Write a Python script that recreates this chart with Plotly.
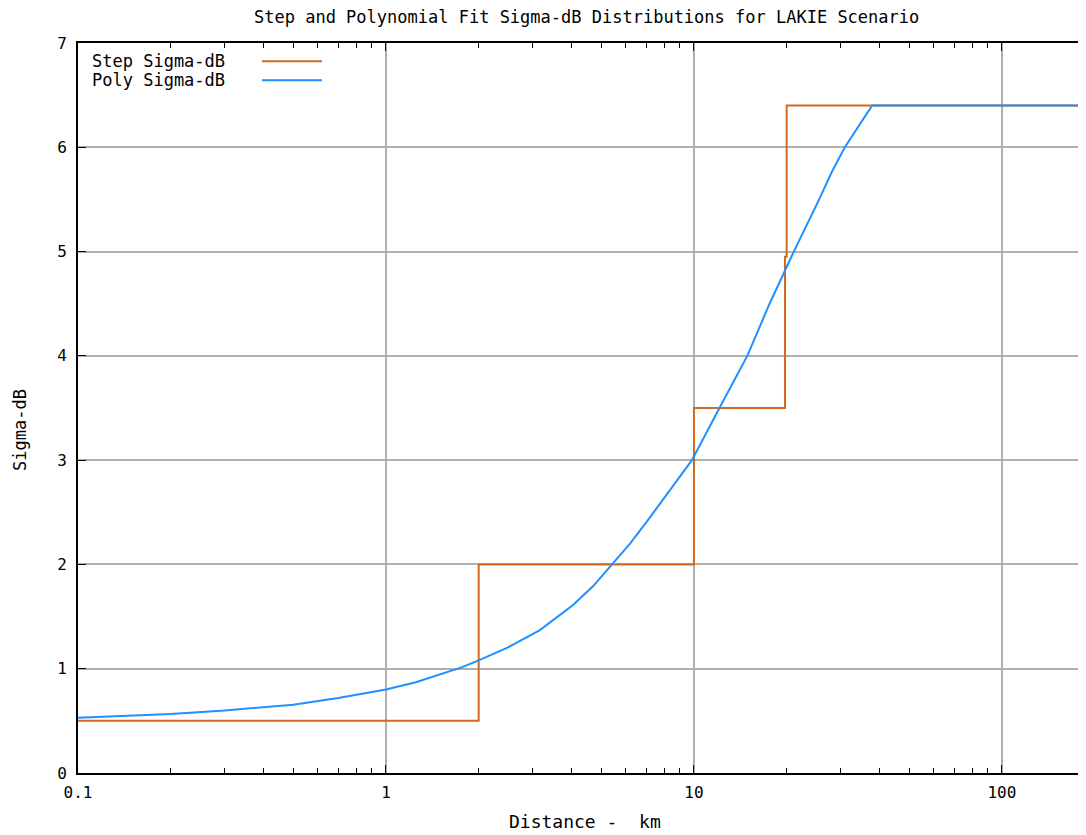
import plotly.graph_objects as go

# Step sigma-dB distribution
step_x = [0.1, 2, 2, 10, 10, 19.75, 19.75, 20, 20, 190]
step_y = [0.5, 0.5, 2.0, 2.0, 3.5, 3.5, 4.95, 4.95, 6.4, 6.4]

# Polynomial fit sigma-dB distribution
poly_x = [0.1, 0.15, 0.2, 0.3, 0.4, 0.5, 0.7, 1.0, 1.25, 1.5, 1.75, 2.0, 2.47,
          3.16, 4.05, 4.7, 5.42, 6.2, 7.03, 8.3, 9.85, 12.1, 14.9, 17.6, 21.1,
          25.5, 28.0, 30.9, 34.5, 37.9, 190]
poly_y = [0.53, 0.55, 0.565, 0.60, 0.63, 0.655, 0.72, 0.80, 0.87, 0.95, 1.01,
          1.08, 1.20, 1.37, 1.61, 1.79, 2.0, 2.2, 2.41, 2.7, 3.0, 3.5, 4.0,
          4.5, 5.0, 5.5, 5.76, 6.0, 6.22, 6.4, 6.4]

x_ticks = [0.1, 1, 10, 100]
x_tick_labels = ["0.1", "1", "10", "100"]
y_ticks = [0, 1, 2, 3, 4, 5, 6, 7]

FONT = "DejaVu Sans Mono"
ORANGE = "#d2691e"
BLUE = "#1e90ff"

fig = go.Figure()
fig.add_trace(go.Scatter(x=step_x, y=step_y, mode="lines", name="Step Sigma-dB",
                         line=dict(color=ORANGE, width=2), showlegend=False))
fig.add_trace(go.Scatter(x=poly_x, y=poly_y, mode="lines", name="Poly Sigma-dB",
                         line=dict(color=BLUE, width=2), showlegend=False))

fig.update_layout(
    width=1078, height=827,
    margin=dict(l=70, r=0, t=35, b=62),
    plot_bgcolor="white", paper_bgcolor="white",
    font=dict(family=FONT, size=16, color="black"),
    xaxis=dict(type="log", range=[-1, 2.273],
               tickvals=x_ticks, ticktext=x_tick_labels,
               ticks="inside", ticklen=8, tickcolor="black", tickwidth=1,
               showline=True, linecolor="black", linewidth=2, mirror="ticks",
               showgrid=True, gridcolor="#b0b0b0", gridwidth=1.5,
               zeroline=False, ticklabelstandoff=4,
               minor=dict(ticks="inside", ticklen=5, tickcolor="black",
                          showgrid=False, dtick="D1"),
               tickfont=dict(family=FONT, size=16)),
    yaxis=dict(range=[0, 7], tickvals=y_ticks,
               ticks="inside", ticklen=8, tickcolor="black",
               showline=True, linecolor="black", linewidth=2,
               showgrid=True, gridcolor="#b0b0b0", gridwidth=1.5,
               zeroline=False, ticklabelstandoff=6,
               tickfont=dict(family=FONT, size=16)),
    annotations=[
        dict(text="Step and Polynomial Fit Sigma-dB Distributions for LAKIE Scenario",
             xref="paper", yref="paper", x=0.504, y=1.035, showarrow=False,
             xanchor="center", yanchor="middle", font=dict(family=FONT, size=17)),
        dict(text="Distance -  km", xref="paper", yref="paper", x=0.503, y=-0.067,
             showarrow=False, xanchor="center", yanchor="middle",
             font=dict(family=FONT, size=18)),
        dict(text="Sigma-dB", xref="paper", yref="paper", x=-0.0575, y=0.47,
             showarrow=False, textangle=-90, xanchor="center", yanchor="middle",
             font=dict(family=FONT, size=17)),
        dict(text="Step Sigma-dB", xref="paper", yref="paper", x=0.0119, y=0.975,
             showarrow=False, xanchor="left", yanchor="middle",
             font=dict(family=FONT, size=17)),
        dict(text="Poly Sigma-dB", xref="paper", yref="paper", x=0.0119, y=0.949,
             showarrow=False, xanchor="left", yanchor="middle",
             font=dict(family=FONT, size=17)),
    ],
    shapes=[
        dict(type="line", xref="paper", yref="paper", x0=0.1825, x1=0.242,
             y0=0.975, y1=0.975, line=dict(color=ORANGE, width=2)),
        dict(type="line", xref="paper", yref="paper", x0=0.1825, x1=0.242,
             y0=0.949, y1=0.949, line=dict(color=BLUE, width=2)),
    ],
)

fig.write_html("out.html")
